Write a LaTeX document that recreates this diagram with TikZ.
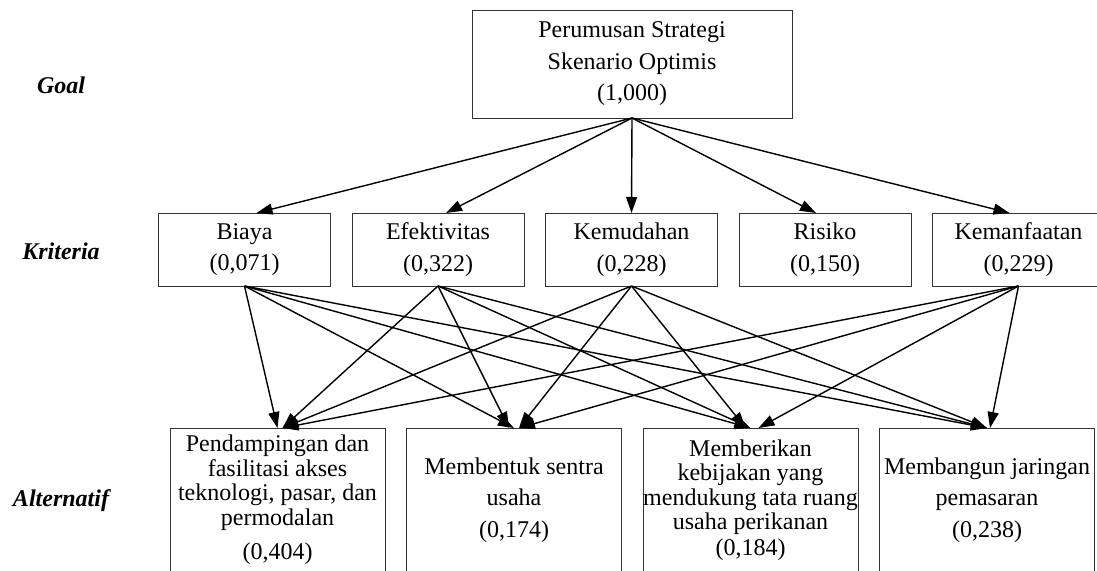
\documentclass[tikz,border=0pt]{standalone}
\usepackage{fontspec}
\setmainfont{Liberation Serif}
\definecolor{garis}{gray}{0.20}
\definecolor{black}{gray}{0.00}
\definecolor{white}{gray}{1.00}
\usetikzlibrary{arrows.meta}
\usetikzlibrary{positioning}
\tikzstyle{base}=[x=1pt, y=-1pt, inner sep=0pt, outer sep=0pt]
\tikzstyle{kotak}=[draw=garis, line width=0.9pt, align=center, fill=white, font=\fontsize{24}{31.5}\selectfont]
\tikzstyle{kriteria}=[kotak, minimum width=172pt, minimum height=73pt]
\tikzstyle{alternatif}=[kotak, minimum width=215pt, minimum height=144pt]
\tikzstyle{rapat}=[font=\fontsize{24}{24.5}\selectfont]
\tikzstyle{tingkat}=[font=\fontsize{24}{28}\selectfont\bfseries\itshape]
\tikzstyle{panah}=[black, line width=1.4pt, -{Triangle[length=16pt,width=11pt]}]

\begin{document}
\begin{tikzpicture}[base]
    \path [use as bounding box] (0,0) rectangle (1097,570);
        \node [tingkat] (lgoal) at (61,85) {Goal};
        \node [tingkat] (lkriteria) at (61,251) {Kriteria};
        \node [tingkat] (lalternatif) at (61,501) {Alternatif};
        \node [kotak, minimum width=320pt, minimum height=108pt] (goal) at (632,64)
            {Perumusan Strategi\\Skenario Optimis\\(1,000)};
        \node [kriteria] (biaya) at (244.5,249.5) {Biaya\\(0,071)};
        \node [kriteria, right=21.5pt of biaya] (efektivitas) {Efektivitas\\(0,322)};
        \node [kriteria, right=21.5pt of efektivitas] (kemudahan) {Kemudahan\\(0,228)};
        \node [kriteria, right=21.5pt of kemudahan] (risiko) {Risiko\\(0,150)};
        \node [kriteria, right=21.5pt of risiko] (kemanfaatan) {Kemanfaatan\\(0,229)};
        \node [alternatif, rapat] (alt1) at (277.5,500)
            {Pendampingan dan\\fasilitasi akses\\teknologi, pasar, dan\\permodalan\\[10pt](0,404)};
        \node [alternatif, right=21.5pt of alt1] (alt2) {Membentuk sentra\\usaha\\(0,174)};
        \node [alternatif, rapat, right=21.5pt of alt2] (alt3)
            {Memberikan\\kebijakan yang\\mendukung tata ruang\\usaha perikanan\\[1pt](0,184)};
        \node [alternatif, right=21.5pt of alt3] (alt4) {Membangun jaringan\\pemasaran\\(0,238)};
        \draw [panah] (goal.south) -- ([xshift=12pt]biaya.north);
        \draw [panah] (goal.south) -- ([xshift=8pt]efektivitas.north);
        \draw [panah] (goal.south) -- (kemudahan.north);
        \draw [panah] (goal.south) -- ([xshift=-9pt]risiko.north);
        \draw [panah] (goal.south) -- ([xshift=-9pt]kemanfaatan.north);
        \draw [panah] (biaya.south) -- (alt1.north);
        \draw [panah] (biaya.south) -- (alt2.north);
        \draw [panah] (biaya.south) -- (alt3.north);
        \draw [panah] (biaya.south) -- (alt4.north);
        \draw [panah] (efektivitas.south) -- ([xshift=5pt]alt1.north);
        \draw [panah] (efektivitas.south) -- ([xshift=-5pt]alt2.north);
        \draw [panah] (efektivitas.south) -- (alt3.north);
        \draw [panah] (efektivitas.south) -- (alt4.north);
        \draw [panah] (kemudahan.south) -- ([xshift=5pt]alt1.north);
        \draw [panah] (kemudahan.south) -- ([xshift=5pt]alt2.north);
        \draw [panah] (kemudahan.south) -- ([xshift=-5pt]alt3.north);
        \draw [panah] (kemudahan.south) -- (alt4.north);
        \draw [panah] (kemanfaatan.south) -- ([xshift=5pt]alt1.north);
        \draw [panah] (kemanfaatan.south) -- ([xshift=5pt]alt2.north);
        \draw [panah] (kemanfaatan.south) -- ([xshift=8pt]alt3.north);
        \draw [panah] (kemanfaatan.south) -- ([xshift=3pt]alt4.north);
    \end{tikzpicture}
\end{document}
